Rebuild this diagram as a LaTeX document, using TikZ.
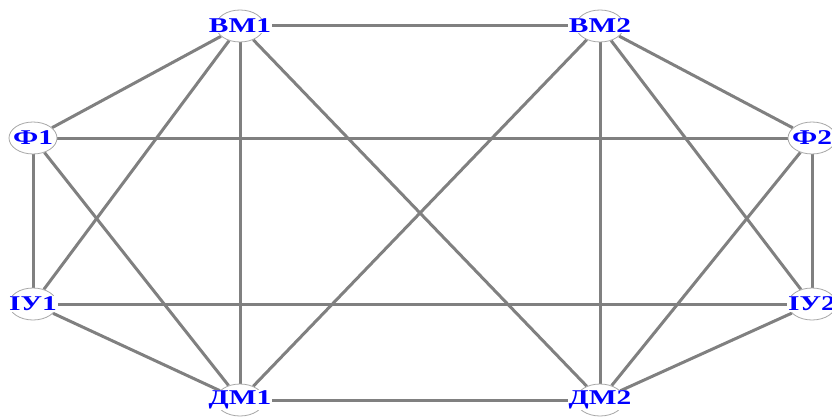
\documentclass[tikz,border=0pt]{standalone}
\usepackage{fontspec}
\setmainfont{Liberation Serif}
\usetikzlibrary{shapes.geometric}
\pgfdeclarelayer{bg}
\pgfsetlayers{bg,main}
\tikzset{
  vert/.style={ellipse, draw=gray!70, line width=0.8pt, fill=white,
    minimum width=48pt, minimum height=32pt, inner sep=0pt},
  vlabel/.style={fill=white, inner sep=0.5pt, text=blue,
    font=\fontsize{21}{21}\selectfont\bfseries, xscale=1.4},
  edge/.style={draw=gray, line width=3pt}
}
\begin{document}
\begin{tikzpicture}[x=1pt,y=1pt]
\useasboundingbox (0,0) rectangle (832,-417);
\clip (0,0) rectangle (832,-417);
\node[vert, label={[vlabel]center:ВМ1}] (bm1) at (240,-26) {};
\node[vert, label={[vlabel]center:ВМ2}] (bm2) at (600,-26) {};
\node[vert, label={[vlabel]center:Ф1}] (f1) at (33,-138) {};
\node[vert, label={[vlabel]center:Ф2}] (f2) at (812,-138) {};
\node[vert, label={[vlabel]center:ІУ1}] (iu1) at (33,-304) {};
\node[vert, label={[vlabel]center:ІУ2}] (iu2) at (812,-304) {};
\node[vert, label={[vlabel]center:ДМ1}] (dm1) at (240,-400) {};
\node[vert, label={[vlabel]center:ДМ2}] (dm2) at (600,-400) {};
\begin{pgfonlayer}{bg}
\draw[edge] (bm1) -- (bm2);
\draw[edge] (bm1) -- (f1);
\draw[edge] (bm1) -- (iu1);
\draw[edge] (bm1) -- (dm1);
\draw[edge] (bm1) -- (dm2);
\draw[edge] (bm2) -- (f2);
\draw[edge] (bm2) -- (iu2);
\draw[edge] (bm2) -- (dm2);
\draw[edge] (bm2) -- (dm1);
\draw[edge] (f1) -- (f2);
\draw[edge] (f1) -- (iu1);
\draw[edge] (f1) -- (dm1);
\draw[edge] (f2) -- (iu2);
\draw[edge] (f2) -- (dm2);
\draw[edge] (iu1) -- (iu2);
\draw[edge] (iu1) -- (dm1);
\draw[edge] (iu2) -- (dm2);
\draw[edge] (dm1) -- (dm2);
\end{pgfonlayer}
\end{tikzpicture}
\end{document}
